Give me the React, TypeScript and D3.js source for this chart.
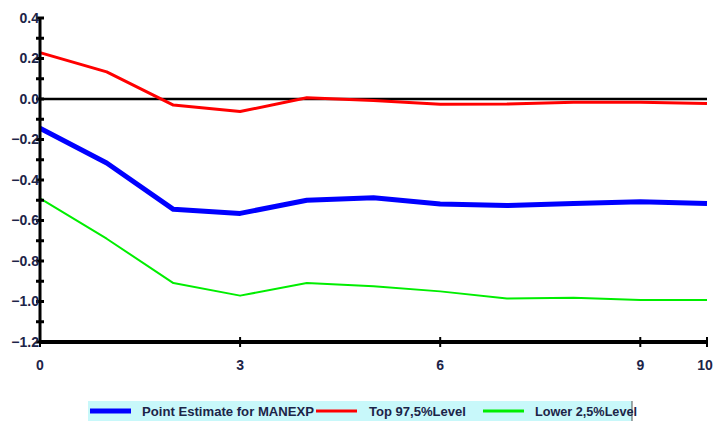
import React from "react";
import * as d3 from "d3";

const steps = [0, 1, 2, 3, 4, 5, 6, 7, 8, 9, 10];
const pointEstimate = [-0.144, -0.316, -0.545, -0.565, -0.5, -0.488, -0.518, -0.526, -0.516, -0.508, -0.516];
const top975 = [0.229, 0.134, -0.03, -0.062, 0.006, -0.008, -0.026, -0.025, -0.016, -0.016, -0.022];
const lower25 = [-0.491, -0.69, -0.909, -0.971, -0.909, -0.925, -0.95, -0.985, -0.982, -0.993, -0.993];
const xTicks = [0, 3, 6, 9, 10];
const yTicks = [0.4, 0.2, 0.0, -0.2, -0.4, -0.6, -0.8, -1.0, -1.2];
const yMinorTicks = d3.range(-12, 5).map((v) => v / 10);
const legendLabels = ["Point Estimate for MANEXP", "Top 97,5%Level", "Lower 2,5%Level"];

const W = 716;
const H = 421;
const FONT = "'Liberation Sans', Arial, sans-serif";
const TEXT = "#1c2448";

export default function App() {
  const x = d3.scaleLinear().domain([0, 10]).range([40, 707]);
  const y = d3.scaleLinear().domain([-1.2, 0.4]).range([342, 18]);
  const line = d3
    .line<number>()
    .x((_, i) => x(steps[i]))
    .y((d) => y(d));

  const series = [
    { data: lower25, color: "#00ee00", width: 2 },
    { data: top975, color: "#ff0000", width: 3 },
    { data: pointEstimate, color: "#0000ff", width: 5 },
  ];

  const legendItems = [
    { label: legendLabels[0], color: "#0000ff", width: 5, sx: 90, tx: 142, tl: 172 },
    { label: legendLabels[1], color: "#ff0000", width: 3, sx: 316, tx: 369, tl: 97 },
    { label: legendLabels[2], color: "#00ee00", width: 3, sx: 483, tx: 535, tl: 102 },
  ];

  return (
    <svg
      width={W}
      height={H}
      style={{ position: "absolute", left: 0, top: 0, display: "block", background: "#fff" }}
    >
      <line x1={x(0)} x2={x(10)} y1={y(0)} y2={y(0)} stroke="#000" strokeWidth={2.5} />

      {series.map((s, i) => (
        <path
          key={i}
          d={line(s.data) || ""}
          fill="none"
          stroke={s.color}
          strokeWidth={s.width}
          strokeLinejoin="round"
        />
      ))}

      <line x1={x(0)} x2={x(0)} y1={y(0.4)} y2={y(-1.2)} stroke="#000" strokeWidth={3} />
      {yMinorTicks.map((t) => (
        <line key={"m" + t} x1={x(0) - 4} x2={x(0) + 4} y1={y(t)} y2={y(t)} stroke="#000" strokeWidth={3} />
      ))}
      {yTicks.map((t) => (
        <text
          key={"y" + t}
          x={x(0) - 1}
          y={y(t)}
          dy="0.35em"
          textAnchor="end"
          fontFamily={FONT}
          fontWeight="bold"
          fontSize={14}
          fill={TEXT}
        >
          {d3.format(".1f")(t)}
        </text>
      ))}

      <line x1={x(0)} x2={x(10)} y1={y(-1.2)} y2={y(-1.2)} stroke="#000" strokeWidth={4} />
      {xTicks.map((t) => (
        <g key={"x" + t}>
          <line x1={x(t)} x2={x(t)} y1={y(-1.2) - 5} y2={y(-1.2) + 5} stroke="#000" strokeWidth={2} />
          <text
            x={t === 10 ? x(t) - 2 : x(t)}
            y={365}
            dy="0.35em"
            textAnchor="middle"
            fontFamily={FONT}
            fontWeight="bold"
            fontSize={14}
            fill={TEXT}
          >
            {t}
          </text>
        </g>
      ))}

      <rect x={88} y={401} width={544} height={22} fill="#c8f8fa" />
      <line x1={632} x2={632} y1={401} y2={421} stroke="#555" strokeWidth={1} />
      {legendItems.map((l, i) => (
        <g key={"l" + i}>
          <line x1={l.sx} x2={l.sx + 41} y1={411} y2={411} stroke={l.color} strokeWidth={l.width} />
          <text
            x={l.tx}
            y={411}
            dy="0.35em"
            fontFamily={FONT}
            fontWeight="bold"
            fontSize={13}
            textLength={l.tl}
            lengthAdjust="spacingAndGlyphs"
            fill={TEXT}
          >
            {l.label}
          </text>
        </g>
      ))}
    </svg>
  );
}
